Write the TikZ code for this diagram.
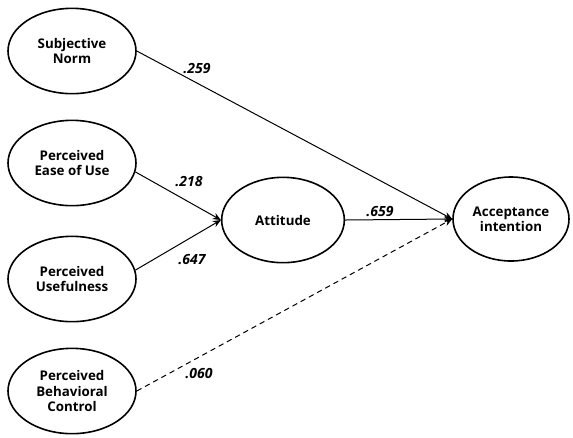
\documentclass[tikz,border=0pt]{standalone}
\usepackage{fontspec}
\setmainfont{Open Sans}
\usetikzlibrary{shapes.geometric,arrows.meta}
\begin{document}
\begin{tikzpicture}[x=0.75pt,y=-0.75pt,
  latent/.style={draw,line width=1.2pt,ellipse,inner sep=0pt,
    minimum width=96pt,minimum height=64pt,align=center,
    font=\fontsize{10}{11.5}\selectfont\bfseries},
  path/.style={line width=0.75pt,-{Stealth[length=6pt,width=5pt]}},
  coef/.style={font=\fontsize{10.5}{12}\selectfont\bfseries\itshape,inner sep=0pt}]
\useasboundingbox (0,0) rectangle (573,437);
\node[latent] (sn) at (72,51) {Subjective\\Norm};
\node[latent] (pe) at (72,163) {Perceived\\Ease of Use};
\node[latent] (pu) at (72,279) {Perceived\\Usefulness};
\node[latent] (pbc) at (72,391) {Perceived\\Behavioral\\Control};
\node[latent,minimum width=92pt] (att) at (283,220) {Attitude};
\node[latent,minimum width=87pt,minimum height=63pt] (acc) at (511,219) {Acceptance\\intention};
\draw[path] (sn.east) -- (acc.west);
\draw[path] (pe.-8) -- (att.west);
\draw[path] (pu.8) -- (att.west);
\draw[path] (att.east) -- (acc.west);
\draw[path,dash pattern=on 4pt off 3pt] (pbc.east) -- (acc.west);
\node[coef] (l1) at (197,69) {.259};
\node[coef] (l2) at (189,182) {.218};
\node[coef] (l3) at (192,260) {.647};
\node[coef] (l4) at (380,212) {.659};
\node[coef] (l5) at (199,374) {.060};
\end{tikzpicture}
\end{document}
